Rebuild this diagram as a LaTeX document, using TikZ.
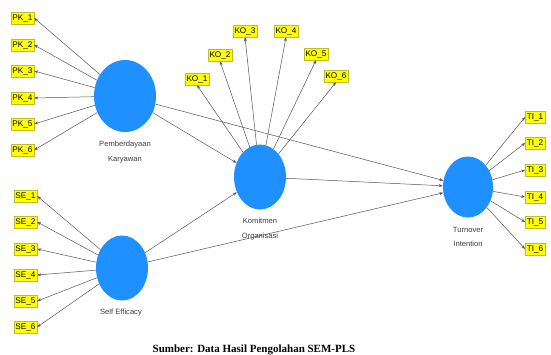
\documentclass[tikz,border=0pt]{standalone}
\usepackage{fontspec}
\setmainfont{Liberation Sans}
\newfontfamily\capfont{Liberation Serif}
\usetikzlibrary{shapes.geometric,arrows.meta}
\definecolor{lvblue}{RGB}{30,144,255}
\definecolor{indyellow}{RGB}{255,255,0}
\definecolor{indborder}{RGB}{190,190,40}
\definecolor{linegray}{RGB}{85,85,85}
\definecolor{labgray}{RGB}{60,60,60}
\tikzset{
  latent/.style={ellipse, fill=lvblue, draw=none, inner sep=0pt},
  indbox/.style={rectangle, fill=indyellow, draw=indborder, line width=0.4pt,
    font=\fontsize{8.2}{9}\selectfont, inner xsep=1.5pt, inner ysep=0pt,
    minimum height=12pt, text=black},
  lvlabel/.style={font=\fontsize{7.6}{14.5}\selectfont, text=labgray, align=center},
  conn/.style={draw=linegray, line width=0.5pt, -{Stealth[length=4pt,width=3pt]}}
}
\begin{document}
\begin{tikzpicture}[x=1pt,y=-1pt]
\useasboundingbox (0,0) rectangle (551,354);
% latent variables
\node[latent, minimum width=62pt, minimum height=72pt] (PK) at (125,96) {};
\node[latent, minimum width=52pt, minimum height=65pt] (SE) at (122,268) {};
\node[latent, minimum width=52pt, minimum height=65pt] (KO) at (260,177) {};
\node[latent, minimum width=50pt, minimum height=61pt] (TI) at (468,187) {};
% labels
\node[lvlabel] (PKl) at (125,152) {Pemberdayaan\\Karyawan};
\node[lvlabel] (SEl) at (121,313) {Self Efficacy};
\node[lvlabel] (KOl) at (260,229) {Komitmen\\Organisasi};
\node[lvlabel] (TIl) at (468,237) {Turnover\\Intention};
% PK indicators
\node[indbox] (PK1) at (22.5,18) {PK\_1};
\node[indbox] (PK2) at (22.5,45) {PK\_2};
\node[indbox] (PK3) at (22.5,71) {PK\_3};
\node[indbox] (PK4) at (22.5,98) {PK\_4};
\node[indbox] (PK5) at (22.5,124) {PK\_5};
\node[indbox] (PK6) at (22.5,150) {PK\_6};
% SE indicators
\node[indbox] (SE1) at (25.5,196) {SE\_1};
\node[indbox] (SE2) at (25.5,222) {SE\_2};
\node[indbox] (SE3) at (25.5,249) {SE\_3};
\node[indbox] (SE4) at (25.5,275) {SE\_4};
\node[indbox] (SE5) at (25.5,301) {SE\_5};
\node[indbox] (SE6) at (25.5,327) {SE\_6};
% KO indicators
\node[indbox] (KO1) at (197,79) {KO\_1};
\node[indbox] (KO2) at (220,55) {KO\_2};
\node[indbox] (KO3) at (245,31) {KO\_3};
\node[indbox] (KO4) at (286,31) {KO\_4};
\node[indbox] (KO5) at (316,54) {KO\_5};
\node[indbox] (KO6) at (336,76) {KO\_6};
% TI indicators
\node[indbox] (TI1) at (535,117) {TI\_1};
\node[indbox] (TI2) at (535,143) {TI\_2};
\node[indbox] (TI3) at (535,170) {TI\_3};
\node[indbox] (TI4) at (535,197) {TI\_4};
\node[indbox] (TI5) at (535,222) {TI\_5};
\node[indbox] (TI6) at (535,249) {TI\_6};
% outer loadings
\foreach \i in {1,...,6} {
  \draw[conn] (PK) -- (PK\i.east);
  \draw[conn] (SE) -- (SE\i.east);
  \draw[conn] (KO) -- (KO\i.south);
  \draw[conn] (TI) -- (TI\i.west);
}
% structural paths
\draw[conn] (PK) -- (KO);
\draw[conn] (PK) -- (TI);
\draw[conn] (SE) -- (KO);
\draw[conn] (SE) -- (TI);
\draw[conn] (KO) -- (TI);
% caption
\node[font=\capfont\bfseries\fontsize{11}{13}\selectfont, anchor=base] (cap) at (254,352) {Sumber: Data Hasil Pengolahan SEM-PLS};
\end{tikzpicture}
\end{document}
